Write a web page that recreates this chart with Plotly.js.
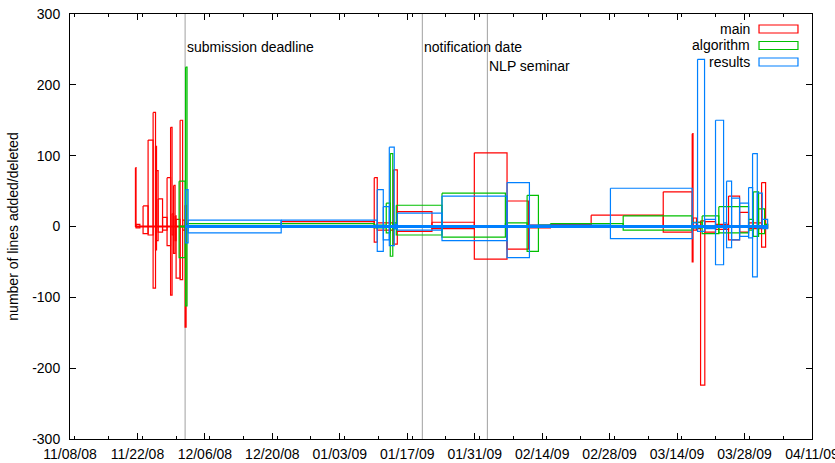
<!DOCTYPE html>
<html>
<head>
<meta charset="utf-8">
<script src="https://cdn.plot.ly/plotly-3.0.1.min.js"></script>
<style>html,body{margin:0;padding:0;background:#fff;}#chart{width:835px;height:463px;}</style>
</head>
<body>
<div id="chart"></div>
<script>
// ---- data: each box spans start..end, from -deleted to +added ----
var main_start = ['2008-11-21 14:00','2008-11-21 17:00','2008-11-23 04:00','2008-11-24 05:00','2008-11-25 06:00','2008-11-25 18:00','2008-11-25 23:00','2008-11-26 07:00','2008-11-27 05:00','2008-11-28 03:30','2008-11-28 21:00','2008-11-29 04:30','2008-11-29 12:00','2008-11-29 19:30','2008-11-30 00:30','2008-11-30 20:30','2008-12-01 09:00','2008-12-01 21:20','2008-12-02 02:20','2008-12-21 20:00','2009-01-10 03:30','2009-01-10 18:30','2009-01-14 02:20','2009-01-14 22:20','2009-01-22 03:00','2009-01-30 22:00','2009-02-06 17:00','2009-02-11 03:20','2009-02-15 17:00','2009-02-24 04:00','2009-03-11 03:00','2009-03-17 03:20','2009-03-17 07:30','2009-03-18 00:45','2009-03-18 21:00','2009-03-19 18:10','2009-03-21 23:30','2009-03-24 16:20','2009-03-26 23:20','2009-03-28 20:10','2009-03-31 13:00','2009-04-01 09:00'];
var main_end = ['2008-11-21 17:00','2008-11-22 12:00','2008-11-24 05:00','2008-11-25 06:00','2008-11-25 18:00','2008-11-25 23:00','2008-11-26 07:00','2008-11-27 05:00','2008-11-28 03:30','2008-11-28 21:00','2008-11-29 04:30','2008-11-29 12:00','2008-11-29 19:30','2008-11-30 00:30','2008-11-30 20:30','2008-12-01 09:00','2008-12-01 21:20','2008-12-02 02:20','2008-12-21 20:00','2009-01-10 03:30','2009-01-10 18:30','2009-01-14 02:20','2009-01-14 22:20','2009-01-22 03:00','2009-01-30 22:00','2009-02-06 17:00','2009-02-11 03:20','2009-02-15 17:00','2009-02-24 04:00','2009-03-11 03:00','2009-03-17 03:20','2009-03-17 07:30','2009-03-18 00:45','2009-03-18 21:00','2009-03-19 18:10','2009-03-21 23:30','2009-03-24 16:20','2009-03-26 23:20','2009-03-28 20:10','2009-03-31 13:00','2009-04-01 09:00','2009-04-01 19:00'];
var main_added = [83,3,29,122,161,113,79,39,13,69,140,18,58,15,10,150,9,30,1,7,69,5,80,21,6,104,36,2,3,16,49,131,12,6,8,7,3,43,20,5,62,3];
var main_deleted = [0,2,10,12,87,33,20,8,5,27,97,12,38,20,73,75,5,142,1,0,22,5,25,7,3,46,32,2,1,0,8,50,5,3,224,8,4,19,8,3,29,2];

var algorithm_start = ['2008-11-30 15:20','2008-12-01 23:45','2008-12-02 07:00','2009-01-10 03:30','2009-01-12 15:20','2009-01-13 11:20','2009-01-13 23:50','2009-01-14 17:20','2009-01-24 05:00','2009-02-06 08:40','2009-02-10 21:00','2009-02-13 05:20','2009-02-15 17:00','2009-03-02 19:30','2009-03-17 03:20','2009-03-19 04:50','2009-03-22 16:00','2009-03-28 20:10','2009-03-29 19:30','2009-03-30 22:00','2009-04-01 04:00'];
var algorithm_end = ['2008-12-01 21:20','2008-12-02 07:00','2009-01-10 03:30','2009-01-12 15:20','2009-01-13 11:20','2009-01-13 23:50','2009-01-14 17:20','2009-01-24 05:00','2009-02-06 08:40','2009-02-10 21:00','2009-02-13 05:20','2009-02-15 17:00','2009-03-02 19:30','2009-03-17 03:20','2009-03-19 04:50','2009-03-22 16:00','2009-03-28 20:10','2009-03-29 19:30','2009-03-30 22:00','2009-04-01 04:00','2009-04-01 19:00'];
var algorithm_added = [64,225,4,2,33,103,5,30,47,5,44,2,4,15,6,15,28,10,49,25,3];
var algorithm_deleted = [44,112,0,2,9,42,3,12,15,1,35,1,1,5,2,10,9,5,14,10,2];

var results_start = ['2008-12-01 23:45','2008-12-02 12:20','2008-12-21 20:00','2009-01-10 18:30','2009-01-12 00:30','2009-01-13 06:30','2009-01-14 07:10','2009-01-14 22:20','2009-01-24 05:00','2009-02-06 17:00','2009-02-11 08:30','2009-02-28 04:00','2009-03-17 03:20','2009-03-18 06:00','2009-03-19 16:50','2009-03-21 23:30','2009-03-23 15:40','2009-03-24 06:30','2009-03-25 07:30','2009-03-26 23:20','2009-03-28 20:10','2009-03-29 16:00','2009-03-30 15:30','2009-03-31 16:20'];
var results_end = ['2008-12-02 12:20','2008-12-21 20:00','2009-01-10 18:30','2009-01-12 00:30','2009-01-13 06:30','2009-01-14 07:10','2009-01-14 22:20','2009-01-24 05:00','2009-02-06 17:00','2009-02-11 08:30','2009-02-28 04:00','2009-03-17 03:20','2009-03-18 06:00','2009-03-19 16:50','2009-03-21 23:30','2009-03-23 15:40','2009-03-24 06:30','2009-03-25 07:30','2009-03-26 23:20','2009-03-28 20:10','2009-03-29 16:00','2009-03-30 15:30','2009-03-31 16:20','2009-04-01 19:00'];
var results_added = [52,9,9,52,28,112,3,19,43,62,2,54,5,236,10,150,5,64,40,33,55,103,47,10];
var results_deleted = [23,9,0,35,19,27,3,5,20,44,1,17,2,7,3,54,3,30,19,14,16,71,2,3];

var series_names = ['main','algorithm','results'];
var event_dates = ['2008-12-01 21:20','2009-01-20 03:00','2009-02-02 15:00'];
var event_labels = ['submission deadline','notification date','NLP seminar'];
var event_label_y = [253,253,227];

var y_tick_values = [-300,-200,-100,0,100,200,300];
var y_tick_labels = ['-300','-200','-100','0','100','200','300'];

// ---- styles ----
var colors = ['#ff0000','#00c000','#0080ff'];
var FONT = 'Liberation Sans, Arial, Helvetica, sans-serif';

function boxPath(st, en, add, del) {
  var x = [], y = [];
  for (var i = 0; i < st.length; i++) {
    x.push(st[i], en[i], en[i], st[i], st[i], null);
    y.push(add[i], add[i], -del[i], -del[i], add[i], null);
  }
  return {x: x, y: y};
}

var sets = [
  [main_start, main_end, main_added, main_deleted],
  [algorithm_start, algorithm_end, algorithm_added, algorithm_deleted],
  [results_start, results_end, results_added, results_deleted]
];

var traces = [];
sets.forEach(function (s, k) {
  var p = boxPath(s[0], s[1], s[2], s[3]);
  traces.push({type: 'scatter', mode: 'lines', x: p.x, y: p.y, name: series_names[k],
    line: {color: colors[k], width: 1.2}, connectgaps: false, showlegend: false, hoverinfo: 'skip'});
  traces.push({type: 'scatter', mode: 'lines', x: [s[0][0], s[1][s[1].length - 1]], y: [0, 0],
    line: {color: colors[k], width: k === 2 ? 3 : 2}, showlegend: false, hoverinfo: 'skip'});
});

var shapes = [];
var annotations = [];
event_dates.forEach(function (d, i) {
  shapes.push({type: 'line', xref: 'x', yref: 'paper', x0: d, x1: d, y0: 0, y1: 1,
    line: {color: '#a0a0a0', width: 1}, layer: 'below'});
  annotations.push({xref: 'x', yref: 'y', x: d, y: event_label_y[i], text: event_labels[i],
    showarrow: false, xanchor: 'left', yanchor: 'middle', xshift: 0,
    font: {family: FONT, size: 14, color: '#000'}});
});

// legend drawn at the top right (text, then sample box)
var legY = [0.9647, 0.9259, 0.8871];
series_names.forEach(function (n, i) {
  annotations.push({xref: 'paper', yref: 'paper', x: 0.919, y: legY[i], text: n, showarrow: false,
    xanchor: 'right', yanchor: 'middle', font: {family: FONT, size: 14, color: '#000'}});
  shapes.push({type: 'rect', xref: 'paper', yref: 'paper', x0: 0.9286, x1: 0.9811,
    y0: legY[i] - 0.0094, y1: legY[i] + 0.0094, line: {color: colors[i], width: 1.2}});
});

var layout = {
  width: 835, height: 463,
  margin: {l: 70, r: 23, t: 14, b: 24},
  paper_bgcolor: '#fff', plot_bgcolor: '#fff',
  showlegend: false,
  font: {family: FONT, size: 14, color: '#000'},
  xaxis: {
    type: 'date', range: ['2008-11-08', '2009-04-11 00:05'],
    tick0: '2008-11-08', dtick: 14 * 86400000, tickformat: '%m/%d/%y',
    ticks: 'inside', ticklen: 6, tickcolor: '#000', mirror: 'ticks',
    showline: true, linecolor: '#000', linewidth: 1, showgrid: false, zeroline: false,
    minor: {ticks: 'inside', ticklen: 3, dtick: 7 * 86400000, tickcolor: '#000', showgrid: false},
    tickfont: {family: FONT, size: 14, color: '#000'}, ticklabelstandoff: 2,
    ticklabeloverflow: 'allow'
  },
  yaxis: {
    range: [-300, 300], tickmode: 'array', tickvals: y_tick_values, ticktext: y_tick_labels,
    ticks: 'inside', ticklen: 6, tickcolor: '#000', mirror: 'ticks',
    showline: true, linecolor: '#000', linewidth: 1, showgrid: false, zeroline: false,
    tickfont: {family: FONT, size: 14, color: '#000'}, ticklabelstandoff: 6,
    title: {text: 'number of lines added/deleted', font: {family: FONT, size: 14, color: '#000'}, standoff: 10}
  },
  shapes: shapes,
  annotations: annotations
};

Plotly.newPlot('chart', traces, layout, {staticPlot: true, displayModeBar: false});
</script>
</body>
</html>
